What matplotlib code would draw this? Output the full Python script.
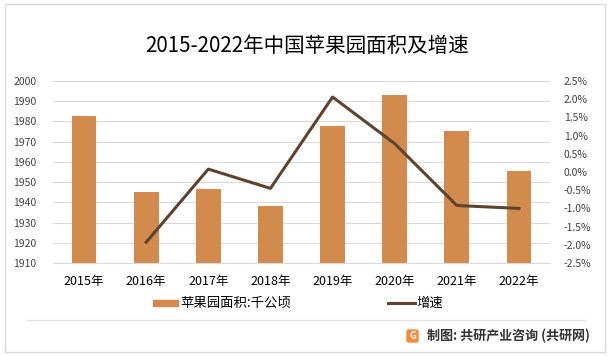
import matplotlib.pyplot as plt
from matplotlib.patches import Rectangle, FancyBboxPatch
from matplotlib.lines import Line2D
from matplotlib.ticker import FuncFormatter

plt.rcParams['font.family'] = ['Noto Sans CJK SC', 'DejaVu Sans']

# 数据
years = ['2015年', '2016年', '2017年', '2018年', '2019年', '2020年', '2021年', '2022年']
area = [1982.8, 1945.1, 1946.6, 1938.1, 1977.8, 1993.2, 1975.3, 1955.6]  # 千公顷
growth = [None, -1.93, 0.08, -0.45, 2.06, 0.78, -0.92, -1.0]  # %

bar_color = '#D38B4D'
line_color = '#5E4330'
grid_color = '#D9D9D9'
text_color = '#404040'

fig = plt.figure(figsize=(6.12, 3.56), dpi=100)
W, H = 612, 356

# 外框和分隔线
fig.patches.append(Rectangle((5 / W, 1 - 352 / H), 600 / W, 348 / H, transform=fig.transFigure,
                             fill=False, edgecolor='#D9D9D9', linewidth=1))
fig.lines.append(Line2D([27 / W, 585 / W], [1 - 320 / H, 1 - 320 / H], transform=fig.transFigure,
                        color='#E3E3E3', linewidth=1))

ax = fig.add_axes([53 / W, 1 - 263 / H, (550 - 53) / W, (263 - 81) / H])
x = list(range(len(years)))
ax.bar(x, area, width=0.4, color=bar_color, zorder=2)
ax.set_ylim(1910, 2000)
ax.set_yticks(range(1910, 2001, 10))
ax.set_xlim(-0.5, 7.5)
ax.set_xticks(x)
ax.set_xticklabels(years)
ax.grid(axis='y', color=grid_color, linewidth=0.8, zorder=0)
for s in ax.spines.values():
    s.set_visible(False)
ax.spines['bottom'].set_visible(True)
ax.spines['bottom'].set_color(grid_color)
ax.tick_params(axis='both', length=0, labelsize=7.5, colors=text_color)
ax.tick_params(axis='x', pad=9, labelsize=9, colors='black')
ax.tick_params(axis='y', pad=12)

ax2 = ax.twinx()
gx = [i for i, g in enumerate(growth) if g is not None]
gy = [g for g in growth if g is not None]
ax2.plot(gx, gy, color=line_color, linewidth=2.2, zorder=3)
ax2.set_ylim(-2.5, 2.5)
ax2.set_yticks([i * 0.5 for i in range(-5, 6)])
ax2.yaxis.set_major_formatter(FuncFormatter(lambda v, p: f'{v:.1f}%'))
for s in ax2.spines.values():
    s.set_visible(False)
ax2.tick_params(axis='y', length=0, labelsize=7.5, colors=text_color, pad=10)

# 标题
fig.text(307 / W, 1 - 46 / H, '2015-2022年中国苹果园面积及增速', ha='center', va='center',
         fontsize=14.8, color='black')

# 图例
fig.patches.append(Rectangle((153 / W, 1 - 306 / H), 25 / W, 6 / H, transform=fig.transFigure,
                             color=bar_color))
fig.text(180 / W, 1 - 303 / H, '苹果园面积:千公顷', ha='left', va='center', fontsize=9.6, color='black')
fig.lines.append(Line2D([388 / W, 415 / W], [1 - 303 / H, 1 - 303 / H], transform=fig.transFigure,
                        color=line_color, linewidth=2.2))
fig.text(416 / W, 1 - 303 / H, '增速', ha='left', va='center', fontsize=9.6, color='black')

# 来源
fig.patches.append(FancyBboxPatch((407 / W, 1 - 342 / H), 11 / W, 12 / H, transform=fig.transFigure,
                                  boxstyle='round,pad=0,rounding_size=0.004', color='#F08A3C'))
fig.text(412.5 / W, 1 - 336 / H, 'G', ha='center', va='center', fontsize=7, color='white',
         fontweight='bold')
fig.text(427 / W, 1 - 336 / H, '制图: 共研产业咨询 (共研网)', ha='left', va='center', fontsize=9.4,
         color='#333333', fontweight='bold')

fig.savefig('out.png', dpi=100)
